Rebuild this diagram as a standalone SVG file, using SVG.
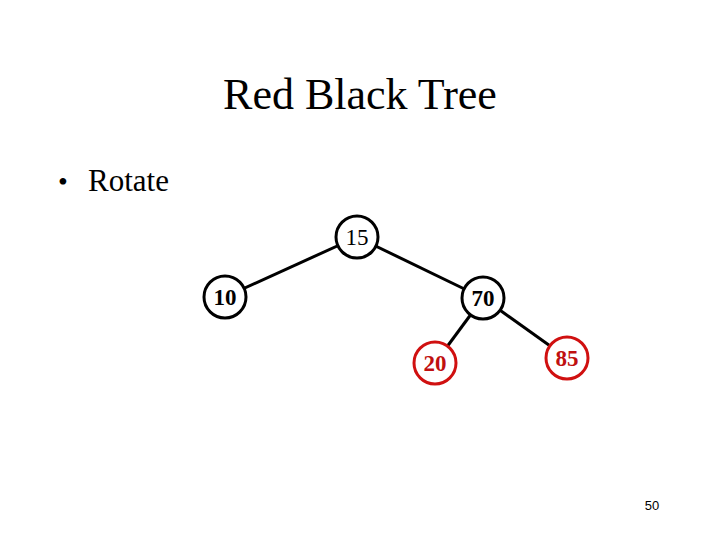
<svg xmlns="http://www.w3.org/2000/svg" width="720" height="540" viewBox="0 0 720 540">
<style>
.t{font-family:"Liberation Serif","Times New Roman",serif;fill:#000}
.n circle{fill:#fff;stroke:#000;stroke-width:3}
.n text{font-family:"Liberation Serif","Times New Roman",serif;font-size:23px;text-anchor:middle;fill:#000}
.r circle{stroke:#d01010}
.r text{fill:#c01010;font-weight:bold}
.e line{stroke:#000;stroke-width:3}
</style>
<rect width="720" height="540" fill="#fff"/>
<text class="t" x="360" y="109" font-size="44" text-anchor="middle">Red Black Tree</text>
<text class="t" x="58" y="191" font-size="28">•</text>
<text class="t" x="88" y="191" font-size="31">Rotate</text>
<text x="652" y="510" font-family="'Liberation Sans Narrow','Liberation Sans',sans-serif" font-size="13" text-anchor="middle">50</text>
<g id="edges" class="e">
<line x1="357" y1="237" x2="225" y2="297"/>
<line x1="357" y1="237" x2="483" y2="298"/>
<line x1="483" y1="298" x2="435" y2="363"/>
<line x1="483" y1="298" x2="567" y2="358"/>
</g>
<g id="n15" class="n"><circle cx="357" cy="237" r="21"/><text x="357" y="245">15</text></g>
<g id="n10" class="n"><circle cx="225" cy="297" r="21"/><text x="225" y="305" font-weight="bold">10</text></g>
<g id="n70" class="n"><circle cx="483" cy="298" r="21"/><text x="483" y="306" font-weight="bold">70</text></g>
<g id="n20" class="n r"><circle cx="435" cy="363" r="21"/><text x="435" y="371">20</text></g>
<g id="n85" class="n r"><circle cx="567" cy="358" r="21"/><text x="567" y="366">85</text></g>
</svg>
